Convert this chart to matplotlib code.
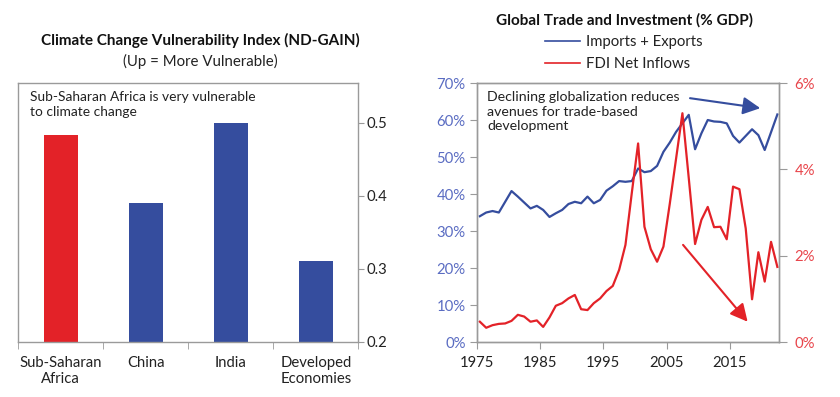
import matplotlib
matplotlib.use("Agg")
import matplotlib.pyplot as plt
import numpy as np
from matplotlib.lines import Line2D

plt.rcParams['font.family'] = ['Lato', 'DejaVu Sans']

# Dane - lewy wykres
regions = ['Sub-Saharan\nAfrica', 'China', 'India', 'Developed\nEconomies']
vulnerability = [0.483, 0.390, 0.500, 0.310]
bar_colors = ['#e32228', '#354d9e', '#354d9e', '#354d9e']

# Dane - prawy wykres
years = np.arange(1975, 2023)
trade = [34.0, 35.0, 35.4, 35.0, 37.9, 40.8, 39.3, 37.7, 36.1, 36.8,
         35.7, 33.8, 34.8, 35.7, 37.3, 37.9, 37.5, 39.3, 37.5, 38.4,
         40.9, 42.1, 43.5, 43.3, 43.5, 46.9, 45.9, 46.2, 47.6, 51.4,
         53.9, 56.8, 59.1, 61.4, 52.1, 56.4, 60.0, 59.6, 59.5, 59.1,
         55.7, 53.9, 55.7, 57.5, 55.9, 51.9, 56.7, 61.5]
fdi = [0.47, 0.33, 0.39, 0.42, 0.43, 0.49, 0.63, 0.59, 0.47, 0.50,
       0.35, 0.57, 0.84, 0.90, 1.01, 1.09, 0.76, 0.74, 0.90, 1.01,
       1.18, 1.30, 1.67, 2.25, 3.45, 4.60, 2.67, 2.15, 1.86, 2.21,
       3.20, 4.25, 5.30, 3.80, 2.27, 2.83, 3.13, 2.66, 2.67, 2.38,
       3.60, 3.54, 2.63, 0.99, 2.08, 1.40, 2.32, 1.74]

BLUE = '#354d9e'
RED = '#e32228'
GRAY = '#9a9a9a'
TXT = '#222222'

fig = plt.figure(figsize=(8.4, 3.97), dpi=100)

# ---- Lewy wykres: slupki
ax1 = fig.add_axes([0.0218, 0.1393, 0.4048, 0.6509])
ax1.bar(range(len(regions)), vulnerability, width=0.4, color=bar_colors)
ax1.set_xlim(-0.5, 3.5)
ax1.set_ylim(0.2, 0.554)
ax1.yaxis.tick_right()
ax1.set_yticks([0.2, 0.3, 0.4, 0.5])
ax1.set_yticklabels(['0.2', '0.3', '0.4', '0.5'])
ax1.set_xticks(range(len(regions)))
ax1.set_xticklabels(regions, fontsize=10.7, color=TXT, linespacing=1.2)
ax1.set_xticks(np.arange(-0.5, 4, 1), minor=True)
ax1.tick_params(axis='x', which='major', length=0, pad=10)
ax1.tick_params(axis='x', which='minor', length=5, color=GRAY)
ax1.tick_params(axis='y', which='major', length=4, color=GRAY, labelsize=10.7,
                labelcolor=TXT, pad=2)
for s in ax1.spines.values():
    s.set_color(GRAY)
    s.set_linewidth(1)
ax1.text(0.034, 0.972, 'Sub-Saharan Africa is very vulnerable\nto climate change',
         transform=ax1.transAxes, va='top', ha='left', fontsize=9.9,
         color=TXT, linespacing=1.32)

fig.text(0.238, 0.899, 'Climate Change Vulnerability Index (ND-GAIN)',
         ha='center', va='center', fontsize=11, fontweight='bold', color='#111111')
fig.text(0.238, 0.844, '(Up = More Vulnerable)', ha='center', va='center',
         fontsize=10.8, color=TXT)

# ---- Prawy wykres: linie
ax = fig.add_axes([0.5675, 0.1385, 0.3602, 0.6524])
ax2 = ax.twinx()
x = years + 0.5
ax.plot(x, trade, color=BLUE, lw=1.6)
ax2.plot(x, fdi, color=RED, lw=1.6)

ax.set_xlim(1975, 2022.8)
ax.set_ylim(0, 70)
ax2.set_ylim(0, 6)
ax.set_xticks([1975, 1985, 1995, 2005, 2015])
ax.set_yticks(range(0, 71, 10))
ax.set_yticklabels([f'{v}%' for v in range(0, 71, 10)])
ax2.set_yticks([0, 2, 4, 6])
ax2.set_yticklabels(['0%', '2%', '4%', '6%'])

ax.tick_params(axis='x', length=5, color=GRAY, labelsize=10.7, labelcolor=TXT, pad=5)
ax.tick_params(axis='y', length=5, color=GRAY, labelsize=10.7, labelcolor='#5a6cc2', pad=3)
ax2.tick_params(axis='y', length=6, color=GRAY, labelsize=10.7, labelcolor='#e8454b', pad=5)
for a in (ax, ax2):
    for s in a.spines.values():
        s.set_color(GRAY)
        s.set_linewidth(1)

ax.text(0.035, 0.968, 'Declining globalization reduces\navenues for trade-based\ndevelopment',
        transform=ax.transAxes, va='top', ha='left', fontsize=10.2, color=TXT,
        linespacing=1.25, zorder=5)

arrow_kw = dict(arrowstyle='-|>,head_length=0.75,head_width=0.38', lw=1.5,
                mutation_scale=14, shrinkA=0, shrinkB=0)
ax2.annotate('', xy=(2019.8, 63.2 * 6 / 70), xytext=(2008.7, 65.9 * 6 / 70),
             arrowprops=dict(color=BLUE, **arrow_kw))
ax2.annotate('', xy=(2017.8, 0.47), xytext=(2007.6, 2.25),
             arrowprops=dict(color=RED, **arrow_kw))

fig.text(0.743, 0.950, 'Global Trade and Investment (% GDP)', ha='center', va='center',
         fontsize=11, fontweight='bold', color='#111111')
handles = [Line2D([], [], color=BLUE, lw=1.2), Line2D([], [], color=RED, lw=1.2)]
fig.legend(handles, ['Imports + Exports', 'FDI Net Inflows'], loc='upper left',
           bbox_to_anchor=(0.649, 0.912), frameon=False, fontsize=10.7,
           handlelength=2.35, handletextpad=0.4, borderpad=0, borderaxespad=0,
           labelspacing=0.55, labelcolor=TXT)

fig.savefig('out.png', dpi=100)
